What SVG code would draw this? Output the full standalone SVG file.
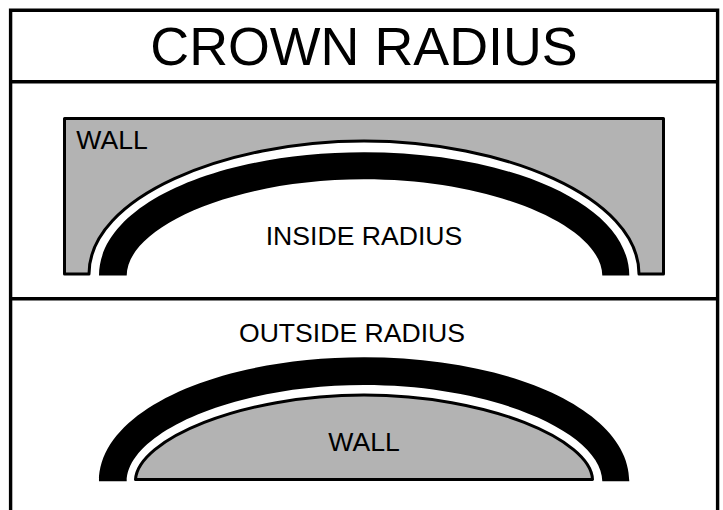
<svg xmlns="http://www.w3.org/2000/svg" width="723" height="510" viewBox="0 0 723 510">
<style>
.frame{fill:none;stroke:#000;stroke-width:3.4}
.wall{fill:#b3b3b3;stroke:#000;stroke-width:3;stroke-linejoin:round}
.band{fill:#000}
text{font-family:"Liberation Sans",Arial,sans-serif;fill:#000;text-anchor:middle}
.title{font-size:53.8px}
.label{font-size:26.6px}
</style>
<rect width="723" height="510" fill="#fff"/>
<path class="frame" d="M10.6 510V10.3H717.6V510M10.6 81.7H717.6M10.6 298.7H717.6"/>
<text class="title" x="364" y="65">CROWN RADIUS</text>
<path class="wall" d="M64.5 118.5H663.5V274H639C639 197 503 141 364 141C225 141 89 197 89 274H64.5Z"/>
<path class="band" d="M99 275.6C99 204.3 218 152.3 364 152.3C510 152.3 629.3 204.3 629.3 275.6H602.3C602 227 495 179.3 364 179.3C233 179.3 127 227 126.7 275.6Z"/>
<text class="label" x="112" y="148.5">WALL</text>
<text class="label" x="364" y="245">INSIDE RADIUS</text>
<text class="label" x="352" y="342.3">OUTSIDE RADIUS</text>
<path class="band" d="M99 481.3C99 410 218 357.3 364 357.3C510 357.3 629.3 410 629.3 481.3H602.3C602 433 495 385 364 385C233 385 127 433 126.7 481.3Z"/>
<path class="wall" d="M135.5 479.5C138 440 240 395 364 395C488 395 591 440 592.5 479.5Z"/>
<text class="label" x="364" y="451">WALL</text>
</svg>
